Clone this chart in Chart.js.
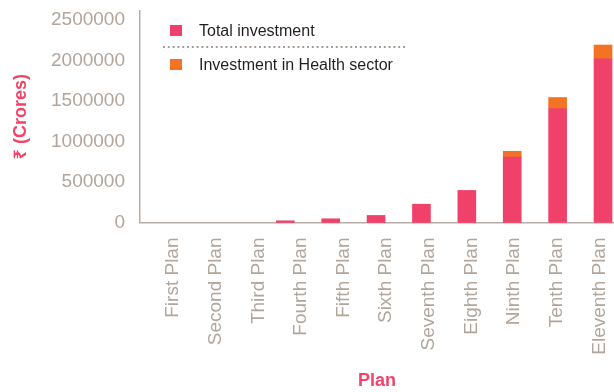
<!DOCTYPE html>
<html><head><meta charset="utf-8">
<script src="https://cdn.jsdelivr.net/npm/chart.js@4.4.1/dist/chart.umd.min.js"></script>
<style>html,body{margin:0;padding:0;background:#fff;} #wrap{width:614px;height:392px;}</style>
</head><body><div id="wrap"><canvas id="c" width="614" height="392"></canvas></div>
<script>
const planLabels = ["First Plan","Second Plan","Third Plan","Fourth Plan","Fifth Plan","Sixth Plan","Seventh Plan","Eighth Plan","Ninth Plan","Tenth Plan","Eleventh Plan"];
const totalInvestment = [0, 0, 0, 21000, 46000, 87000, 226000, 396000, 808000, 1407000, 2021000];
const healthInvestment = [0, 0, 0, 0, 0, 0, 0, 0, 71000, 136000, 170000];
const yTicks = [0, 500000, 1000000, 1500000, 2000000, 2500000];

const FONT = "'Liberation Sans', Arial, 'Noto Sans', 'DejaVu Sans', sans-serif";
const RED = '#f0416a';
const ORANGE = '#f47224';
const TICK = '#b1a59c';
const AXIS = '#b8ada4';
const PINK = '#f04468';

const legendPlugin = {
  id: 'plainLegend',
  afterDraw(chart) {
    const ctx = chart.ctx;
    ctx.save();
    const rows = [36, 70];
    chart.data.datasets.forEach((ds, i) => {
      ctx.fillStyle = ds.backgroundColor;
      ctx.fillRect(170, rows[i] - 11, 12, 11);
      ctx.fillStyle = '#231f20';
      ctx.font = '16px ' + FONT;
      ctx.textBaseline = 'alphabetic';
      ctx.textAlign = 'left';
      ctx.fillText(ds.label, 199, rows[i]);
    });
    ctx.strokeStyle = '#a99e96';
    ctx.lineWidth = 2;
    ctx.setLineDash([2, 2.8]);
    ctx.beginPath();
    ctx.moveTo(163, 47);
    ctx.lineTo(405, 47);
    ctx.stroke();
    ctx.restore();
  }
};

// zero readings are left undrawn (no visible bar in the picture)
const toPoints = arr => arr.map((v, i) => ({ x: i, y: v === 0 ? null : v }));

new Chart(document.getElementById('c'), {
  type: 'bar',
  data: {
    datasets: [
      { label: 'Total investment', data: toPoints(totalInvestment), backgroundColor: RED, xAxisID: 'x', yAxisID: 'y', barThickness: 18, clip: false },
      { label: 'Investment in Health sector', data: toPoints(healthInvestment), backgroundColor: ORANGE, xAxisID: 'x', yAxisID: 'y', barThickness: 18, clip: false }
    ]
  },
  options: {
    responsive: false,
    animation: false,
    devicePixelRatio: 1,
    layout: { padding: { top: 11, left: 0, right: 0, bottom: 0 } },
    plugins: { legend: { display: false }, tooltip: { enabled: false } },
    scales: {
      x: {
        type: 'linear', display: false, stacked: true, offset: false, min: -0.2005, max: 10.242,
        afterBuildTicks: (s) => { s.ticks = planLabels.map((_, i) => ({ value: i })); }
      },
      xl: {
        type: 'linear', position: 'bottom', offset: false, min: -0.7737, max: 10.34,
        grid: { display: false, drawTicks: false, offset: false },
        border: { display: true, color: AXIS, width: 1.5 },
        ticks: {
          color: TICK, font: { family: FONT, size: 19 }, padding: 15,
          minRotation: 90, maxRotation: 90, autoSkip: false,
          callback: (v) => planLabels[Math.round(v)]
        },
        afterBuildTicks: (s) => { s.ticks = planLabels.map((_, i) => ({ value: i })); },
        afterFit: (s) => { s.height = 169.5; s.paddingLeft = 0; s.paddingRight = 0; },
        title: { display: true, text: 'Plan', color: PINK, font: { family: FONT, size: 18, weight: 'bold' }, padding: { top: 0, bottom: 0 } }
      },
      y: {
        stacked: true, min: 0, max: 2611000,
        grid: { display: false, drawTicks: false },
        border: { display: true, color: AXIS, width: 1.5 },
        ticks: { color: TICK, font: { family: FONT, size: 19 }, padding: 15, includeBounds: false, callback: (v) => String(v) },
        afterBuildTicks: (s) => { s.ticks = yTicks.map(v => ({ value: v })); },
        afterFit: (s) => { s.width = 140; s.paddingTop = 0; s.paddingBottom = 0; },
        title: { display: true, text: '₹ (Crores)', color: PINK, font: { family: FONT, size: 18, weight: 'bold' }, padding: { top: 10, bottom: 0 } }
      }
    }
  },
  plugins: [legendPlugin]
});
</script>
</body></html>
